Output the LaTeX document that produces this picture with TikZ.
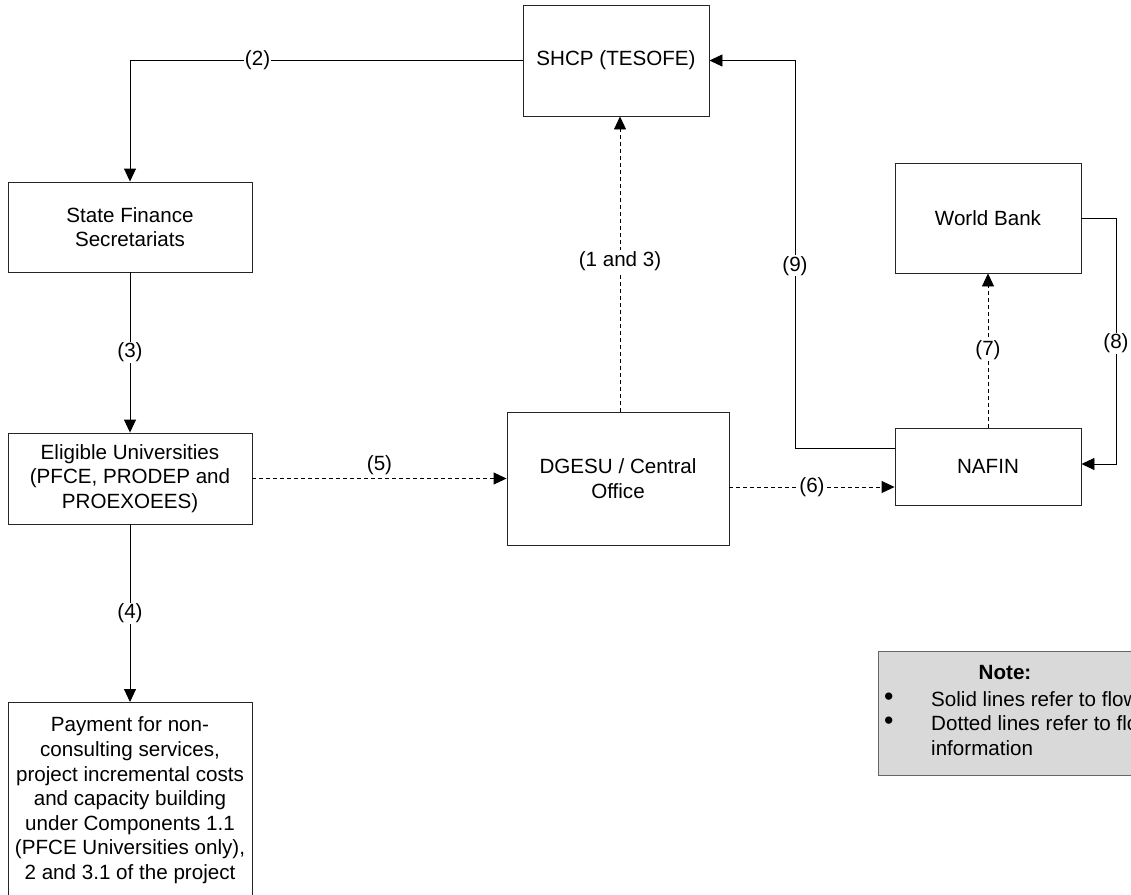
\documentclass[tikz,border=0pt]{standalone}
\usepackage{fontspec}
\setmainfont{Liberation Sans}
\usetikzlibrary{arrows.meta}
\newcommand{\dfont}{\fontsize{20.6}{24.6}\selectfont}
\tikzset{
  box/.style={draw=black!85, line width=0.9pt, align=center, inner sep=2pt, font=\dfont},
  flow/.style={draw=black, line width=0.9pt, -{Triangle[length=13pt,width=12pt]}},
  info/.style={flow, dash pattern=on 4pt off 3pt},
  lbl/.style={fill=white, inner sep=1pt, font=\dfont},
  notetext/.style={font=\dfont, anchor=west, inner sep=0pt},
}
\begin{document}
\begin{tikzpicture}[x=1pt,y=-1pt]
\useasboundingbox (0,0) rectangle (1131,894);
\clip (0,0) rectangle (1131,894);
% boxes
\node[box, minimum width=186, minimum height=111] (shcp) at (616,60.5) {SHCP (TESOFE)};
\node[box, minimum width=244, minimum height=90] (sfs) at (130,227) {State Finance\\Secretariats};
\node[box, minimum width=244, minimum height=91] (eu) at (130,478.5) {Eligible Universities\\(PFCE, PRODEP and\\PROEXOEES)};
\node[box, minimum width=244, minimum height=196, anchor=north] (pay) at (130,702) {Payment for non-\\consulting services,\\project incremental costs\\and capacity building\\under Components 1.1\\(PFCE Universities only),\\2 and 3.1 of the project};
\node[box, minimum width=222, minimum height=133] (dg) at (618,478.5) {DGESU / Central\\Office};
\node[box, minimum width=186, minimum height=110] (wb) at (988,218) {World Bank};
\node[box, minimum width=186, minimum height=77] (nafin) at (988,466.5) {NAFIN};
% note
\node[draw=black!60, line width=0.9pt, fill=black!15, minimum width=300, minimum height=124, anchor=north west] (note) at (878,651) {};
\node[font=\dfont\bfseries] (notet) at (1005,673) {Note:};
\node[notetext] (b1) at (884,699) {\scalebox{1.3}{\textbullet}};
\node[notetext] (t1) at (931,699) {Solid lines refer to flow};
\node[notetext] (b2) at (884,723.5) {\scalebox{1.3}{\textbullet}};
\node[notetext] (t2) at (931,723.5) {Dotted lines refer to flow};
\node[notetext] (t3) at (931,748) {information};
% connectors
\draw[flow] (shcp.west) -- (130,60.5) node[lbl, pos=0.675] {(2)} -- (sfs.north);
\draw[flow] (sfs.south) -- node[lbl] {(3)} (eu.north);
\draw[flow] (eu.south) -- node[lbl] {(4)} (pay.north);
\draw[info] (eu.east) -- node[font=\dfont, above=0pt, pos=0.5] {(5)} (dg.west);
\draw[info] (dg.east |- 0,487) -- node[lbl] {(6)} (nafin.west |- 0,487);
\draw[info] (dg.north -| 620,0) -- node[lbl, pos=0.51] {(1 and 3)} (shcp.south -| 620,0);
\draw[info] (nafin.north) -- node[lbl] {(7)} (wb.south);
\draw[flow] (nafin.west |- 0,448) -- (795,448) -- node[lbl, pos=0.47] {(9)} (795,60.5) -- (shcp.east);
\draw[flow] (wb.east) -- (1116,218) -- node[lbl, pos=0.51] {(8)} (1116,464) -- (nafin.east |- 0,464);
\end{tikzpicture}
\end{document}
